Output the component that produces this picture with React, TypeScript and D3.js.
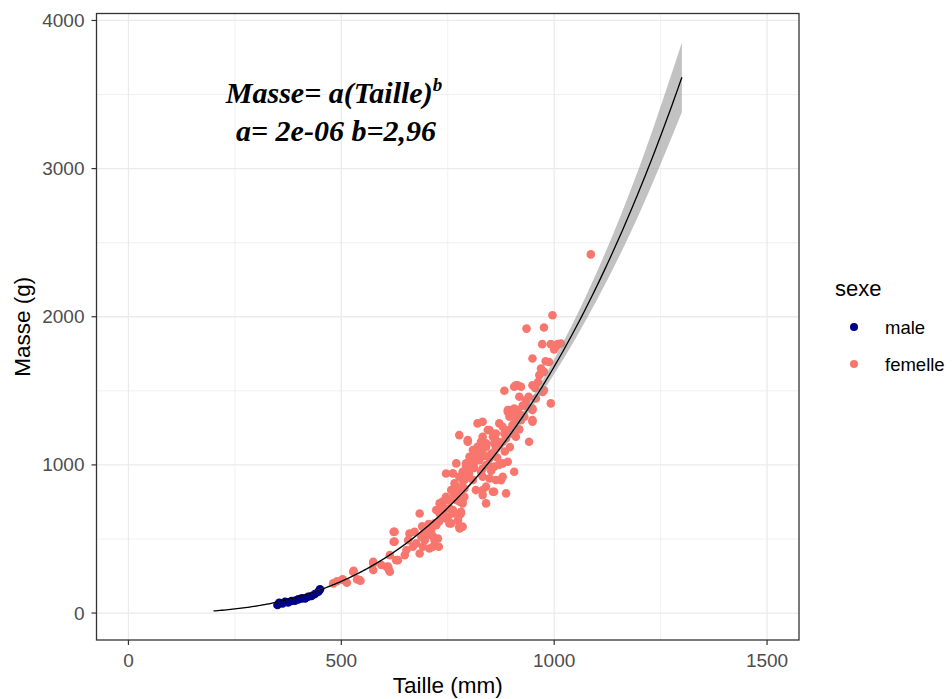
import React from "react";
import * as d3 from "d3";

// Individual measurements: body length (mm) and mass (g), by sex
const maleTaille = [350, 354, 362, 368, 375, 383, 391, 399, 407, 415, 422, 430, 438, 446, 450];
const maleMasse = [54, 69, 65, 76, 72, 81, 83, 92, 99, 99, 110, 115, 128, 144, 160];

const femelleTaille = [
  481, 490, 503, 504, 513, 528, 529, 537, 543, 545, 575, 575, 575, 594, 606, 610, 612, 614, 614, 623,
  623, 625, 625, 629, 633, 649, 653, 657, 660, 668, 672, 676, 684, 684, 688, 692, 696, 703, 707, 711,
  711, 715, 719, 719, 723, 723, 727, 729, 731, 731, 735, 738, 739, 746, 746, 746, 750, 754, 754, 758,
  758, 762, 762, 762, 766, 770, 770, 774, 777, 777, 777, 777, 778, 778, 781, 781, 781, 785, 785, 785,
  785, 785, 785, 789, 789, 793, 793, 793, 797, 797, 801, 801, 805, 809, 809, 809, 813, 813, 816, 816,
  820, 820, 824, 824, 828, 828, 832, 832, 832, 832, 832, 832, 832, 840, 840, 840, 840, 840, 844, 848,
  848, 848, 852, 856, 856, 859, 859, 859, 863, 863, 863, 863, 871, 871, 875, 879, 879, 879, 879, 883,
  883, 887, 887, 891, 891, 891, 894, 895, 895, 902, 906, 906, 906, 906, 910, 910, 910, 914, 914, 914,
  918, 918, 922, 922, 922, 930, 934, 935, 937, 941, 949, 949, 949, 949, 949, 949, 957, 965, 969, 972,
  973, 976, 976, 976, 988, 992, 992, 996, 1004, 1008, 1016, 1086,
  700, 705, 690, 715, 695, 730, 742, 752, 765, 772, 790, 800, 812, 818, 826, 836, 845, 852, 866, 870,
  884, 896, 902, 918, 926, 940, 955, 962, 980, 1000,
];
const femelleMasse = [
  200, 215, 227, 223, 205, 279, 285, 227, 223, 218, 346, 290, 335, 324, 312, 313, 290, 279, 391, 548,
  481, 549, 482, 357, 357, 391, 425, 492, 537, 447, 548, 470, 402, 672, 515, 447, 492, 526, 436, 571,
  560, 447, 492, 605, 593, 695, 503, 447, 672, 740, 661, 752, 717, 638, 942, 785, 650, 605, 706, 830,
  605, 672, 695, 943, 875, 1010, 763, 627, 661, 583, 1201, 920, 571, 751, 683, 808, 673, 897, 853, 740,
  583, 954, 763, 841, 785, 1010, 920, 988, 1167, 1156, 965, 1055, 1032, 999, 898, 1100, 1077, 1021, 1066, 830,
  1280, 1122, 1100, 1032, 1156, 954, 1190, 1291, 1100, 976, 920, 796, 830, 1122, 1145, 853, 740, 999, 1235, 1235,
  1044, 909, 1077, 1190, 819, 1145, 988, 819, 1212, 1167, 898, 1111, 1280, 1134, 897, 1257, 1156, 1010, 920, 1500,
  1212, 1179, 808, 1370, 1358, 1021, 1370, 1325, 1235, 1269, 1381, 1358, 954, 1527, 1538, 1190, 1302, 1358, 1370, 1538,
  1460, 1325, 1527, 1336, 1302, 1325, 1437, 1920, 1392, 1156, 1538, 1370, 1291, 1302, 1381, 1718, 1448, 1606, 1650, 1815,
  1493, 1927, 1628, 1504, 1695, 1415, 1815, 2010, 1797, 1815, 1819, 2421,
  560, 600, 585, 520, 540, 620, 700, 760, 800, 850, 900, 940, 980, 1040, 1070, 1060, 1000, 960, 1050, 1000,
  1090, 1120, 1210, 1240, 1400, 1460, 1520, 1560, 1700, 1780,
];

// Power-law fit: Masse = a * Taille^b
const fitA = 2.193e-6;
const fitB = 2.96;
const fitRange = [200, 1300];

// Confidence band: relative half-width of the fit at selected lengths
const bandTaille = [200, 400, 600, 800, 900, 1000, 1100, 1200, 1300];
const bandRel = [0.05, 0.03, 0.017, 0.012, 0.018, 0.03, 0.043, 0.055, 0.065];

const xTicks = [0, 500, 1000, 1500];
const xMinor = [250, 750, 1250];
const yTicks = [0, 1000, 2000, 3000, 4000];
const yMinor = [500, 1500, 2500, 3500];

const sexes = ["male", "femelle"];
const sexColors = ["#00008B", "#F8766D"];

const W = 952;
const H = 699;
const panel = { left: 96.5, right: 799, top: 13.5, bottom: 640 };

const fitFn = (t: number) => fitA * Math.pow(t, fitB);

function formatA(v: number) {
  const [m, e] = v.toExponential(0).split("e");
  const neg = e.startsWith("-");
  const digits = e.replace(/[-+]/, "").padStart(2, "0");
  return `${m}e${neg ? "-" : "+"}${digits}`;
}
const formatB = (v: number) => v.toFixed(2).replace(".", ",");

export default function App() {
  const x = d3.scaleLinear().domain([-75, 1575]).range([panel.left, panel.right]);
  const y = d3.scaleLinear().domain([-182, 4047]).range([panel.bottom, panel.top]);

  const curveT = d3.range(fitRange[0], fitRange[1] + 0.001, 5);
  const line = d3
    .line<number>()
    .x((t) => x(t))
    .y((t) => y(fitFn(t)));

  const area = d3
    .area<number>()
    .x((_, i) => x(bandTaille[i]))
    .y0((_, i) => y(fitFn(bandTaille[i]) * (1 - bandRel[i])))
    .y1((_, i) => y(fitFn(bandTaille[i]) * (1 + bandRel[i])))
    .curve(d3.curveMonotoneX);

  const sans = "'Liberation Sans', Arial, sans-serif";
  const gridColor = "#EBEBEB";

  return (
    <svg
      width={W}
      height={H}
      style={{ position: "absolute", left: 0, top: 0, background: "#fff" }}
      fontFamily={sans}
    >
      <rect x={0} y={0} width={W} height={H} fill="#fff" />
      <defs>
        <clipPath id="panel-clip">
          <rect
            x={panel.left}
            y={panel.top}
            width={panel.right - panel.left}
            height={panel.bottom - panel.top}
          />
        </clipPath>
      </defs>

      {/* grid */}
      <g>
        {xMinor.map((v) => (
          <line key={"xm" + v} x1={x(v)} x2={x(v)} y1={panel.top} y2={panel.bottom} stroke={gridColor} strokeWidth={0.7} />
        ))}
        {yMinor.map((v) => (
          <line key={"ym" + v} x1={panel.left} x2={panel.right} y1={y(v)} y2={y(v)} stroke={gridColor} strokeWidth={0.7} />
        ))}
        {xTicks.map((v) => (
          <line key={"xg" + v} x1={x(v)} x2={x(v)} y1={panel.top} y2={panel.bottom} stroke={gridColor} strokeWidth={1.3} />
        ))}
        {yTicks.map((v) => (
          <line key={"yg" + v} x1={panel.left} x2={panel.right} y1={y(v)} y2={y(v)} stroke={gridColor} strokeWidth={1.3} />
        ))}
      </g>

      <g clipPath="url(#panel-clip)">
        {/* observations */}
        {maleTaille.map((t, i) => (
          <circle key={"m" + i} cx={x(t)} cy={y(maleMasse[i])} r={4.3} fill={sexColors[0]} />
        ))}
        {femelleTaille.map((t, i) => (
          <circle key={"f" + i} cx={x(t)} cy={y(femelleMasse[i])} r={4.3} fill={sexColors[1]} />
        ))}

        {/* fitted curve with confidence band */}
        <path d={area(bandTaille) || ""} fill="#999999" fillOpacity={0.6} />
        <path d={line(curveT) || ""} fill="none" stroke="#000" strokeWidth={1.3} />
      </g>

      {/* panel border */}
      <rect
        x={panel.left}
        y={panel.top}
        width={panel.right - panel.left}
        height={panel.bottom - panel.top}
        fill="none"
        stroke="#333333"
        strokeWidth={1.3}
      />

      {/* axes */}
      <g fontSize={19} fill="#4D4D4D">
        {yTicks.map((v) => (
          <g key={"yt" + v}>
            <line x1={panel.left - 5} x2={panel.left} y1={y(v)} y2={y(v)} stroke="#333333" strokeWidth={1.2} />
            <text x={panel.left - 12} y={y(v) + 6.5} textAnchor="end">
              {v}
            </text>
          </g>
        ))}
        {xTicks.map((v) => (
          <g key={"xt" + v}>
            <line x1={x(v)} x2={x(v)} y1={panel.bottom} y2={panel.bottom + 5} stroke="#333333" strokeWidth={1.2} />
            <text x={x(v)} y={panel.bottom + 27} textAnchor="middle">
              {v}
            </text>
          </g>
        ))}
      </g>
      <text x={(panel.left + panel.right) / 2} y={693} textAnchor="middle" fontSize={22.5} fill="#000">
        Taille (mm)
      </text>
      <text
        transform={`translate(30,${(panel.top + panel.bottom) / 2}) rotate(-90)`}
        textAnchor="middle"
        fontSize={22.5}
        fill="#000"
      >
        Masse (g)
      </text>

      {/* equation */}
      <g fontFamily="'Liberation Serif', 'Times New Roman', serif" fontWeight="bold" fontStyle="italic" fill="#000">
        <text x={334} y={103} textAnchor="middle" fontSize={30}>
          Masse= a(Taille)
          <tspan fontSize={19} dy={-12}>
            b
          </tspan>
        </text>
        <text x={336} y={141} textAnchor="middle" fontSize={30}>
          {`a= ${formatA(fitA)} b=${formatB(fitB)}`}
        </text>
      </g>

      {/* legend */}
      <g>
        <text x={835} y={296} fontSize={22} fill="#000">
          sexe
        </text>
        {sexes.map((s, i) => (
          <g key={s}>
            <circle cx={854} cy={327 + i * 37} r={4} fill={sexColors[i]} />
            <text x={885} y={334 + i * 37} fontSize={18.5} fill="#000">
              {s}
            </text>
          </g>
        ))}
      </g>
    </svg>
  );
}
